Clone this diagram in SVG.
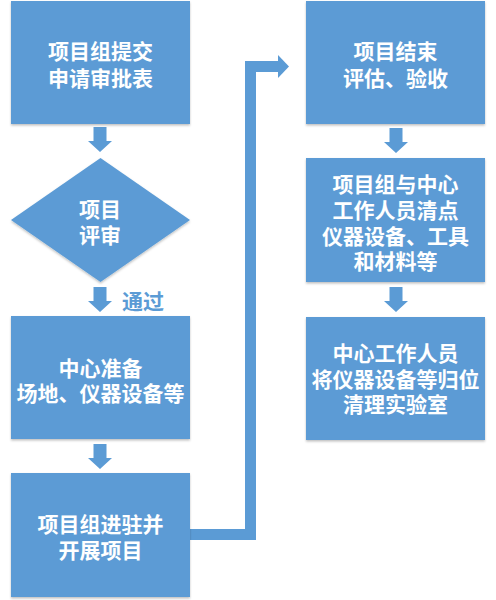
<svg xmlns="http://www.w3.org/2000/svg" width="496" height="600" viewBox="0 0 496 600">
<defs>
<filter id="sh" x="-10%" y="-10%" width="120%" height="120%">
<feDropShadow dx="0" dy="1.5" stdDeviation="1" flood-color="#000" flood-opacity="0.25"/>
</filter>
<path id="dn" d="M-6.5,0 H6.5 V14 H12 L0,25 L-12,14 H-6.5 Z" fill="#5B9BD5"/>
</defs>
<style>
.b{fill:#5B9BD5;filter:url(#sh)}
.t{fill:#fff;font-family:"Noto Sans CJK SC","Noto Sans",sans-serif;font-weight:bold;font-size:21px;text-anchor:middle;dominant-baseline:central}
.l{fill:#5B9BD5;font-family:"Noto Sans CJK SC","Noto Sans",sans-serif;font-weight:bold;font-size:21px;dominant-baseline:central}
</style>
<g id="connectors">
<use href="#dn" x="100" y="127"/>
<use href="#dn" x="100" y="287"/>
<use href="#dn" x="100" y="444"/>
<use href="#dn" x="396" y="128"/>
<use href="#dn" x="396" y="287"/>
<path d="M190,534.5 H250.5 V66.5 H279" fill="none" stroke="#5B9BD5" stroke-width="11"/>
<polygon points="278,55 289,66.5 278,78" fill="#5B9BD5"/>
<text class="l" x="122" y="300">通过</text>
</g>
<g id="n1"><rect class="b" x="11" y="1" width="179" height="123"/>
<text class="t" x="100.5" y="50">项目组提交</text><text class="t" x="100.5" y="77">申请审批表</text></g>
<g id="n2"><polygon class="b" points="100.5,158 190,220 100.5,282 11,220"/>
<text class="t" x="100" y="208">项目</text><text class="t" x="100" y="234">评审</text></g>
<g id="n3"><rect class="b" x="11" y="316" width="179" height="123"/>
<text class="t" x="100.5" y="367">中心准备</text><text class="t" x="100.5" y="392">场地、仪器设备等</text></g>
<g id="n4"><rect class="b" x="11" y="473" width="179" height="124"/>
<text class="t" x="100.5" y="523">项目组进驻并</text><text class="t" x="100.5" y="549">开展项目</text></g>
<g id="n5"><rect class="b" x="306" y="1" width="179" height="123"/>
<text class="t" x="395.5" y="50">项目结束</text><text class="t" x="395.5" y="77">评估、验收</text></g>
<g id="n6"><rect class="b" x="306" y="158" width="179" height="124"/>
<text class="t" x="395.5" y="183">项目组与中心</text><text class="t" x="395.5" y="209">工作人员清点</text><text class="t" x="395.5" y="235">仪器设备、工具</text><text class="t" x="395.5" y="260">和材料等</text></g>
<g id="n7"><rect class="b" x="306" y="317" width="179" height="123"/>
<text class="t" x="395.5" y="352">中心工作人员</text><text class="t" x="395.5" y="378">将仪器设备等归位</text><text class="t" x="395.5" y="403">清理实验室</text></g>
</svg>
